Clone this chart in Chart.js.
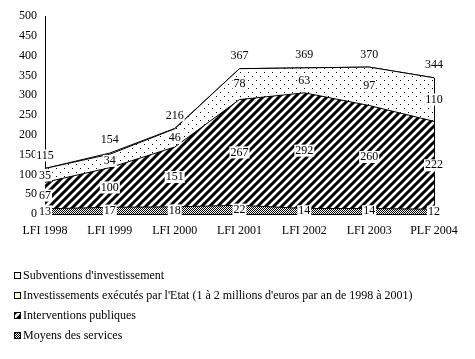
<!DOCTYPE html>
<html>
<head>
<meta charset="utf-8">
<script src="https://cdn.jsdelivr.net/npm/chart.js@4.4.0/dist/chart.umd.min.js"></script>
<style>
  html, body { margin: 0; padding: 0; background: #fff; }
  #wrap { width: 475px; height: 359px; }
</style>
</head>
<body>
<div id="wrap"><canvas id="c" width="475" height="359"></canvas></div>
<script>
const labels = ['LFI 1998', 'LFI 1999', 'LFI 2000', 'LFI 2001', 'LFI 2002', 'LFI 2003', 'PLF 2004'];
const moyens = [13, 17, 18, 22, 14, 14, 12];
const interventions = [67, 100, 151, 267, 292, 260, 222];
const investissements = [35, 34, 46, 78, 63, 97, 110];
const subventions = [0, 3, 1, 0, 0, 0, 0];
const totals = [115, 154, 216, 367, 369, 370, 344];
const yTicks = [0, 50, 100, 150, 200, 250, 300, 350, 400, 450, 500];

const FONT = '"Liberation Serif", "Times New Roman", serif';

function tile(w, h, draw) {
    const c = document.createElement('canvas');
    c.width = w; c.height = h;
    const g = c.getContext('2d');
    g.fillStyle = '#fff';
    g.fillRect(0, 0, w, h);
    draw(g);
    return c;
}

const ctx = document.getElementById('c').getContext('2d');

const checker = ctx.createPattern(tile(2, 2, g => {
    g.fillStyle = '#000';
    g.fillRect(0, 0, 1, 1);
    g.fillRect(1, 1, 1, 1);
}), 'repeat');

const stripes = ctx.createPattern(tile(8, 8, g => {
    g.strokeStyle = '#000';
    g.lineWidth = 3;
    g.beginPath();
    g.moveTo(-4, 4); g.lineTo(4, -4);
    g.moveTo(0, 8); g.lineTo(8, 0);
    g.moveTo(4, 12); g.lineTo(12, 4);
    g.stroke();
}), 'repeat');

const dots = ctx.createPattern(tile(8, 8, g => {
    g.fillStyle = '#000';
    g.fillRect(0, 0, 1, 1);
    g.fillRect(4, 4, 1, 1);
}), 'repeat');

const legendItems = [
    { text: 'Subventions d\'investissement', fill: '#fff' },
    { text: 'Investissements exécutés par l\'Etat (1 à 2 millions d\'euros par an de 1998 à 2001)', fill: '#ffffcc' },
    { text: 'Interventions publiques', fill: stripes },
    { text: 'Moyens des services', fill: checker }
];

const valueLabels = {
    id: 'valueLabels',
    afterDatasetsDraw(chart) {
        const { ctx } = chart;
        const xs = chart.scales.x, ys = chart.scales.y;
        const series = [moyens, interventions, investissements];
        ctx.save();
        // right-hand edge of the stacked areas
        const last = labels.length - 1;
        const xr = Math.round(xs.getPixelForValue(last)) + 0.5;
        ctx.strokeStyle = '#000';
        ctx.lineWidth = 1;
        ctx.beginPath();
        ctx.moveTo(xr, ys.getPixelForValue(totals[last]));
        ctx.lineTo(xr, ys.getPixelForValue(0));
        ctx.stroke();

        ctx.font = '12px ' + FONT;
        ctx.textAlign = 'center';
        ctx.textBaseline = 'middle';
        const put = (txt, x, y) => {
            const w = ctx.measureText(txt).width;
            ctx.fillStyle = '#fff';
            ctx.fillRect(x - w / 2 - 1, y - 6, w + 2, 12);
            ctx.fillStyle = '#000';
            ctx.fillText(txt, x, y);
        };
        for (let j = 0; j < labels.length; j++) {
            const x = xs.getPixelForValue(j);
            let base = 0;
            series.forEach(s => {
                put(String(s[j]), x, ys.getPixelForValue(base + s[j] / 2));
                base += s[j];
            });
            put(String(totals[j]), x, ys.getPixelForValue(totals[j]) - 13);
        }
        ctx.restore();
    }
};

const legendPlugin = {
    id: 'sideLegend',
    afterDraw(chart) {
        const { ctx } = chart;
        ctx.save();
        ctx.font = '12px ' + FONT;
        ctx.textBaseline = 'middle';
        legendItems.forEach((it, i) => {
            const y = 275 + i * 20;
            ctx.fillStyle = it.fill;
            ctx.fillRect(14, y - 3, 7, 7);
            ctx.strokeStyle = '#000';
            ctx.lineWidth = 1;
            ctx.strokeRect(14.5, y - 2.5, 6, 6);
            ctx.fillStyle = '#000';
            ctx.fillText(it.text, 23, y + 1);
        });
        ctx.restore();
    }
};

new Chart(ctx, {
    type: 'line',
    data: {
        labels: labels,
        datasets: [
            { label: 'Moyens des services', data: moyens, backgroundColor: checker, fill: 'origin' },
            { label: 'Interventions publiques', data: interventions, backgroundColor: stripes, fill: '-1' },
            { label: 'Investissements exécutés par l\'Etat', data: investissements, backgroundColor: dots, fill: '-1' },
            { label: 'Subventions d\'investissement', data: subventions, backgroundColor: '#fff', fill: '-1' }
        ]
    },
    options: {
        responsive: false,
        animation: false,
        layout: { padding: { top: 16, right: 41, bottom: 121, left: 0 } },
        elements: {
            line: { borderColor: '#000', borderWidth: 1, tension: 0 },
            point: { radius: 0 }
        },
        scales: {
            x: {
                offset: false,
                grid: { display: false, drawTicks: false },
                border: { color: '#000' },
                ticks: { color: '#000', font: { family: FONT, size: 12 }, padding: 10, maxRotation: 0 },
                afterFit(s) { s.height = 24; }
            },
            y: {
                stacked: true,
                min: 0,
                max: 500,
                afterBuildTicks(s) { s.ticks = yTicks.map(v => ({ value: v })); },
                grid: { display: false, drawTicks: true, tickLength: 5, tickColor: '#000' },
                border: { color: '#000' },
                ticks: { color: '#000', font: { family: FONT, size: 12 }, padding: 3 },
                afterFit(s) { s.width = 45; }
            }
        },
        plugins: {
            legend: { display: false },
            tooltip: { enabled: false }
        }
    },
    plugins: [valueLabels, legendPlugin]
});
</script>
</body>
</html>
